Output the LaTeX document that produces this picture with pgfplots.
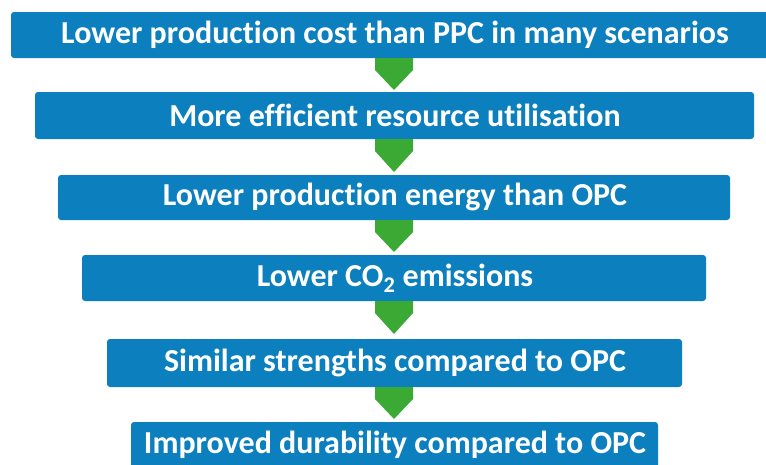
\documentclass[border=0pt]{standalone}
\usepackage{pgfplots}
\pgfplotsset{compat=1.18}
\usepackage{fontspec}
\setmainfont[Ligatures={NoCommon}]{Carlito}
\definecolor{boxblue}{RGB}{12,128,190}
\definecolor{arrowgreen}{RGB}{58,170,53}

\begin{document}
\begin{tikzpicture}
\begin{axis}[
    width=766pt, height=464pt, scale only axis,
    xmin=0, xmax=766, ymin=0, ymax=464, y dir=reverse,
    hide axis, clip=true,
]
% background, keeps the page size
\addplot[fill=white, draw=none] coordinates {(0,0) (766,0) (766,464) (0,464)} -- cycle;

% boxes (x1,y1) (x2,y2)
\addplot[fill=boxblue, draw=none, rounded corners=3pt] coordinates {(11,12) (779,12) (779,58) (11,58)} -- cycle;
\addplot[fill=boxblue, draw=none, rounded corners=3pt] coordinates {(35,92) (754,92) (754,139) (35,139)} -- cycle;
\addplot[fill=boxblue, draw=none, rounded corners=3pt] coordinates {(58,175) (730,175) (730,220) (58,220)} -- cycle;
\addplot[fill=boxblue, draw=none, rounded corners=3pt] coordinates {(82,255) (706,255) (706,301) (82,301)} -- cycle;
\addplot[fill=boxblue, draw=none, rounded corners=3pt] coordinates {(107,339) (682,339) (682,387) (107,387)} -- cycle;
\addplot[fill=boxblue, draw=none, rounded corners=3pt] coordinates {(131,422) (658,422) (658,475) (131,475)} -- cycle;

% arrows
\addplot[fill=arrowgreen, draw=none] coordinates {(375,58) (413,58) (413,70) (394,90) (375,70)} -- cycle;
\addplot[fill=arrowgreen, draw=none] coordinates {(375,139) (413,139) (413,151) (394,172) (375,151)} -- cycle;
\addplot[fill=arrowgreen, draw=none] coordinates {(375,220) (413,220) (413,232) (394,252) (375,232)} -- cycle;
\addplot[fill=arrowgreen, draw=none] coordinates {(375,301) (413,301) (413,313) (394,334) (375,313)} -- cycle;
\addplot[fill=arrowgreen, draw=none] coordinates {(375,387) (413,387) (413,399) (394,419) (375,399)} -- cycle;

\tikzset{lbl/.style={text=white, font=\bfseries\fontsize{32}{32}\selectfont, anchor=center, inner sep=0pt}}
\node[lbl] at (axis cs:395,35) {Lower production cost than PPC in many scenarios};
\node[lbl] at (axis cs:395,115) {More efficient resource utilisation};
\node[lbl] at (axis cs:395,197) {Lower production energy than OPC};
\node[lbl] at (axis cs:395,278) {Lower CO\textsubscript{2} emissions};
\node[lbl] at (axis cs:395,363) {Similar strengths compared to OPC};
\node[lbl] at (axis cs:395,445) {Improved durability compared to OPC};
\end{axis}
\end{tikzpicture}
\end{document}
